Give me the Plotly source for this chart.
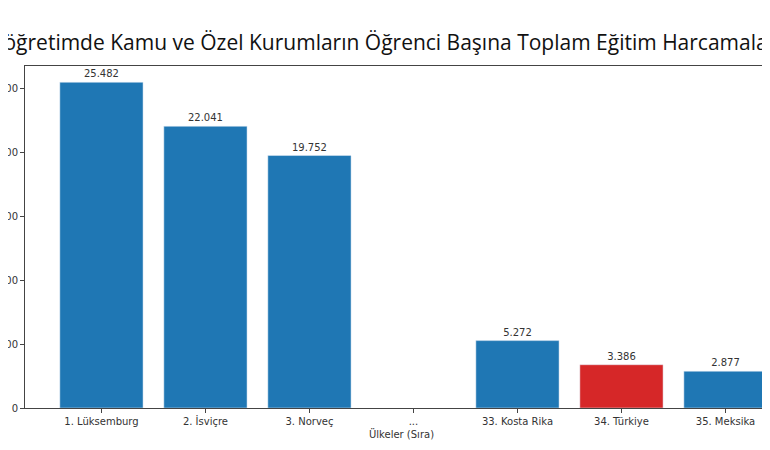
import plotly.graph_objects as go

categories = ["1. Lüksemburg", "2. İsviçre", "3. Norveç", "...", "33. Kosta Rika", "34. Türkiye", "35. Meksika"]
values = [25482, 22041, 19752, None, 5272, 3386, 2877]
labels = ["25.482", "22.041", "19.752", "", "5.272", "3.386", "2.877"]
colors = ["#1f77b4", "#1f77b4", "#1f77b4", "#1f77b4", "#1f77b4", "#d62728", "#1f77b4"]
y_ticks = [0, 5000, 10000, 15000, 20000, 25000]
y_tick_labels = ["0", "5000", "10000", "15000", "20000", "25000"]

fig = go.Figure(go.Bar(
    x=list(range(len(categories))), y=values, marker_color=colors, width=0.8,
    text=labels, textposition="outside", cliponaxis=False,
    textfont=dict(family="DejaVu Sans", size=10, color="#333"),
))
fig.update_layout(
    width=770, height=450, plot_bgcolor="white", paper_bgcolor="white",
    margin=dict(l=17, r=0, t=58, b=50), showlegend=False,
    font=dict(family="DejaVu Sans", size=10, color="#333"),
    xaxis=dict(range=[-0.735, 6.505], tickvals=list(range(len(categories))), ticktext=categories,
               showline=True, linecolor="#444", mirror=True, ticks="outside", ticklen=4,
               showgrid=False, automargin=False,
               title=dict(text="Ülkeler (Sıra)", standoff=4, font=dict(size=10))),
    yaxis=dict(range=[0, 26756], tickvals=y_ticks, ticktext=y_tick_labels, showline=True,
               linecolor="#444", mirror=True, automargin=False,
               ticks="outside", ticklen=4, showgrid=False, zeroline=False),
    annotations=[dict(text="Yükseköğretimde Kamu ve Özel Kurumların Öğrenci Başına Toplam Eğitim Harcamaları",
                      xref="paper", yref="paper", x=-92/753, xanchor="left", y=1.0, yanchor="bottom", yshift=8,
                      showarrow=False, font=dict(family="Open Sans", size=21, color="#111"))],
)
fig.write_html("out.html")
